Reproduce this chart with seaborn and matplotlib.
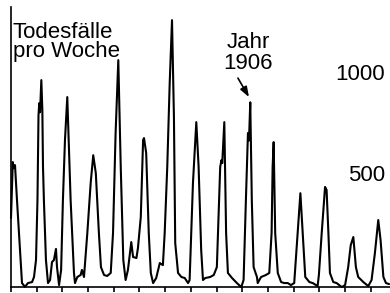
import matplotlib
matplotlib.use('Agg')
import matplotlib.pyplot as plt
import seaborn as sns

# weekly deaths, x in decimal years
years = [1897.00, 1897.07, 1897.105, 1897.156, 1897.233, 1897.311, 1897.389, 1897.428, 1897.545, 1897.66, 1897.82, 1897.895, 1897.973,
         1898.03, 1898.07, 1898.10, 1898.13, 1898.18, 1898.22, 1898.245, 1898.28, 1898.36, 1898.44, 1898.52, 1898.595, 1898.67, 1898.75, 1898.79, 1898.87, 1898.95,
         1899.02, 1899.10, 1899.19, 1899.32, 1899.45, 1899.49, 1899.58, 1899.71, 1899.76, 1899.84, 1899.97,
         1900.10, 1900.20, 1900.30, 1900.42, 1900.50, 1900.62, 1900.74, 1900.88, 1900.97,
         1901.07, 1901.175, 1901.27, 1901.37, 1901.46, 1901.55, 1901.68, 1901.75, 1901.88, 1901.94,
         1902.05, 1902.14, 1902.175, 1902.26, 1902.36, 1902.44, 1902.53, 1902.65, 1902.79, 1902.91, 1902.98,
         1903.08, 1903.175, 1903.265, 1903.34, 1903.39, 1903.50, 1903.63, 1903.76, 1903.89, 1903.95,
         1904.08, 1904.21, 1904.30, 1904.40, 1904.47, 1904.56, 1904.75, 1904.89,
         1905.01, 1905.14, 1905.19, 1905.22, 1905.30, 1905.37, 1905.44, 1905.60, 1905.79, 1905.96,
         1906.05, 1906.14, 1906.22, 1906.26, 1906.31, 1906.37, 1906.44, 1906.57, 1906.60, 1906.73, 1906.92,
         1907.05, 1907.14, 1907.18, 1907.22, 1907.28, 1907.38, 1907.51, 1907.63, 1907.77, 1907.89,
         1908.02, 1908.11, 1908.26, 1908.35, 1908.45, 1908.61, 1908.74, 1908.93, 1908.98,
         1909.09, 1909.22, 1909.28, 1909.35, 1909.41, 1909.54, 1909.67, 1909.87,
         1910.00, 1910.12, 1910.22, 1910.32, 1910.42, 1910.51, 1910.71, 1910.90,
         1911.03, 1911.16, 1911.29, 1911.38, 1911.49, 1911.59, 1911.71]
deaths = [343, 620, 590, 605, 432, 269, 100, 21, 2, 21, 26, 51, 135,
          432, 852, 912, 867, 1026, 877, 596, 432, 135, 21, 36, 125, 135, 190, 100, 11, 86,
          432, 729, 942, 432, 71, 21, 51, 61, 86, 51, 269,
          516, 654, 565, 269, 100, 61, 56, 71, 269,
          763, 1125, 596, 135, 36, 86, 224, 150, 145, 195,
          348, 729, 739, 665, 269, 71, 21, 46, 120, 110, 269,
          596, 1011, 1323, 842, 219, 71, 51, 46, 21, 36,
          516, 818, 596, 185, 36, 46, 51, 61,
          100, 596, 630, 615, 818, 269, 71, 46, 21, 1,
          36, 432, 764, 727, 916, 432, 100, 51, 21, 51, 61,
          71, 269, 596, 719, 269, 71, 26, 21, 21, 11,
          21, 185, 466, 269, 51, 26, 21, 6, 61,
          269, 497, 482, 269, 71, 26, 21, 1,
          11, 100, 209, 249, 100, 51, 26, 6,
          36, 170, 333, 234, 51, 21, 16]

year_ticks = list(range(1897, 1912))
y_labels = [1000, 500]
arrow_tail = (1905.83, 1036)
arrow_head = (1906.26, 942)

sns.set_theme(style='ticks')
plt.rcParams['font.family'] = ['Liberation Sans', 'DejaVu Sans']
FS = 16

fig = plt.figure(figsize=(3.9, 2.93), dpi=100)
ax = fig.add_axes([11 / 390, 5.7 / 293, 379 / 390, 280.3 / 293])
sns.lineplot(x=years, y=deaths, ax=ax, color='black', lw=1.5,
             estimator=None, sort=False, clip_on=False)
ax.set_xlim(1897, 1897 + 379 / 25.7)
ax.set_ylim(0, 1388)

ax.set_xticks(year_ticks)
ax.set_xticklabels([])
ax.set_yticks([])
ax.tick_params(axis='x', direction='out', length=3.6, width=1.2, color='black')
sns.despine(ax=ax)
for s in ['left', 'bottom']:
    ax.spines[s].set_linewidth(1.2)
    ax.spines[s].set_color('black')
ax.set_xlabel('')
ax.set_ylabel('')

# value labels sit a bit above their level, right aligned inside the axes
for v in y_labels:
    ax.annotate(str(v), xy=(0.987, v), xycoords=('axes fraction', 'data'),
                xytext=(0, 4), textcoords='offset points',
                ha='right', va='baseline', fontsize=FS, color='black')

ax.text(0.005, 0.89, 'Todesfälle', transform=ax.transAxes, ha='left',
        va='baseline', fontsize=FS, color='black')
ax.text(0.005, 0.82, 'pro Woche', transform=ax.transAxes, ha='left',
        va='baseline', fontsize=FS, color='black')

ax.text(1906.24, 0.852 * 1388, 'Jahr', ha='center', va='baseline', fontsize=FS, color='black')
ax.text(1906.24, 0.779 * 1388, '1906', ha='center', va='baseline', fontsize=FS, color='black')
ax.annotate('', xy=arrow_head, xytext=arrow_tail,
            arrowprops=dict(arrowstyle='-|>,head_length=0.5,head_width=0.18',
                            color='black', lw=1.2, shrinkA=0, shrinkB=0))

fig.savefig('out.png', dpi=100)
